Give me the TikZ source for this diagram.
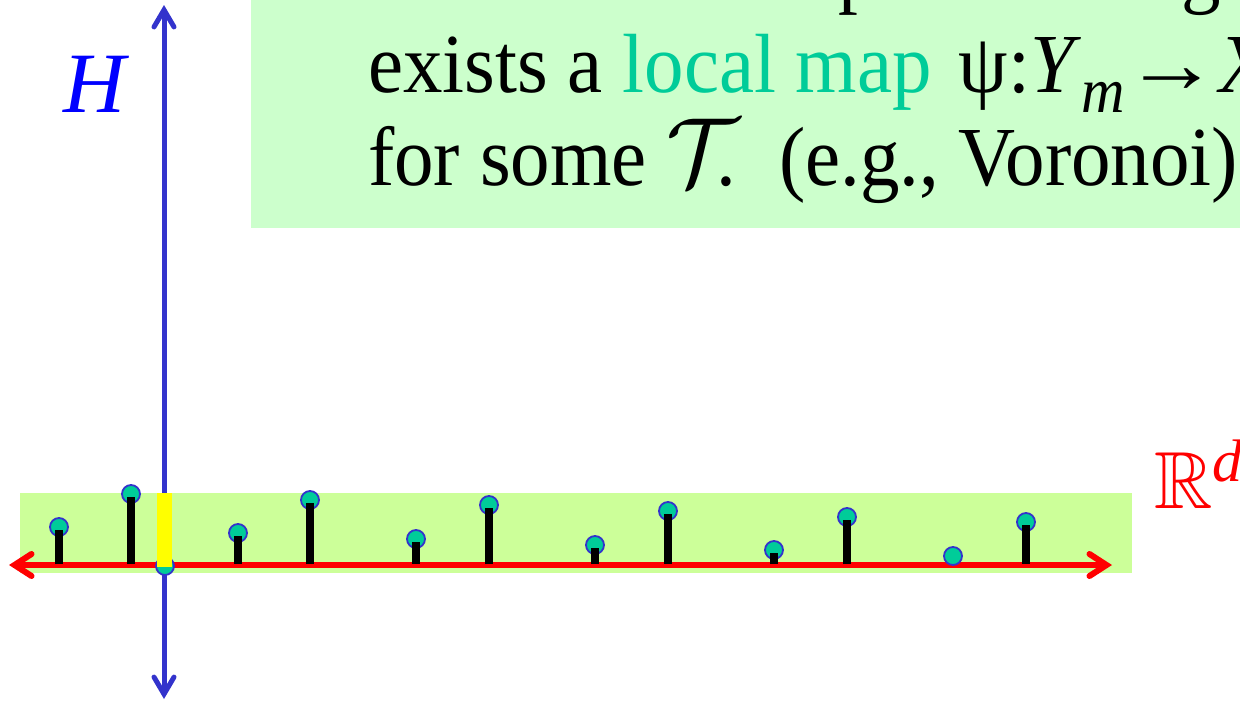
\documentclass[tikz,border=0pt]{standalone}
\usepackage{amssymb}
\usepackage{fontspec}
\setmainfont{Liberation Serif}
\usetikzlibrary{arrows.meta}
\font\mycalT=cmsy10 at 97pt
\definecolor{boxgreen}{HTML}{CCFFCC}
\definecolor{bandgreen}{HTML}{CCFF99}
\definecolor{dotteal}{HTML}{00CC99}
\definecolor{axisblue}{HTML}{3333CC}
\definecolor{hblue}{HTML}{0000FF}
\definecolor{axisred}{HTML}{FF0000}
\definecolor{baryellow}{HTML}{FFFF00}
\tikzset{
  txt/.style={inner sep=0pt, anchor=base west, font=\fontsize{84}{93}\selectfont},
  dotnode/.style={circle, fill=dotteal, draw=axisblue, line width=1.8pt, minimum size=18pt, inner sep=0pt},
  stemline/.style={line width=7.5pt, black},
  redaxis/.style={line width=6pt, axisred, line cap=round, {Straight Barb[length=17pt,width=22pt,line cap=round]}-{Straight Barb[length=17pt,width=22pt,line cap=round]}},
  blueaxis/.style={line width=5pt, axisblue, line cap=round, {Straight Barb[length=17pt,width=20pt,line cap=round]}-{Straight Barb[length=17pt,width=20pt,line cap=round]}},
}
\begin{document}
\begin{tikzpicture}[x=1pt,y=-1pt]
\useasboundingbox (0,0) rectangle (1240,702);
\clip (0,0) rectangle (1240,702);
% text box
\fill[boxgreen] (251,-20) rectangle (1260,228);
\node[txt] (l1p) at (838,-3) {\scalebox{0.94}[1]{p}};
\node[txt] (l1g) at (1181,-3) {\scalebox{0.94}[1]{g}};
\node[txt] (l2) at (368,92) {\scalebox{0.94}[1]{exists a \textcolor{dotteal}{local map}\hspace{8pt} ψ:\textit{Y}\raisebox{-20pt}{\fontsize{64}{64}\selectfont\textit{m}}\scalebox{1.2}[1]{→}\textit{X}}};
\node[txt] (l3) at (368,185) {\scalebox{0.94}[1]{for some {\mycalT T}.\hspace{25pt} (e.g., Voronoi)}};
% H label
\node[inner sep=0pt, anchor=base west, text=hblue, font=\fontsize{86}{86}\selectfont\itshape] (H) at (63,112) {H};
% band
\fill[bandgreen] (20,493) rectangle (1132,573);
% axes
\coordinate (rl) at (9,565);
\coordinate (rr) at (1112,565);
\coordinate (bt) at (164,5);
\coordinate (bb) at (164,699);
\draw[redaxis] (rl) -- (rr);
\draw[blueaxis] (bb) -- (bt);
\node[inner sep=0pt, anchor=base west, text=axisred] (Rd) at (1154,508) {\fontsize{81}{81}\selectfont$\mathbb{R}$\raisebox{27pt}{\fontsize{60}{60}\selectfont\itshape d}};
% dots and stems
\node[dotnode] (d0) at (165,566) {};
\foreach \i/\x/\y in {1/59/527, 2/131/494, 3/238/533, 4/310/500, 5/416/539, 6/489/505, 7/595/545, 8/668/511, 9/774/550, 10/847/517, 11/953/556, 12/1026/522} {
  \node[dotnode] (d\i) at (\x,\y) {};
  \coordinate (b\i) at (\x,564);
}
\foreach \i in {1,...,10,12} {
  \draw[stemline] (b\i) -- ([yshift=-3pt]d\i.center);
}
% yellow bar
\fill[baryellow] (157,493) rectangle (172,567);
\end{tikzpicture}
\end{document}
